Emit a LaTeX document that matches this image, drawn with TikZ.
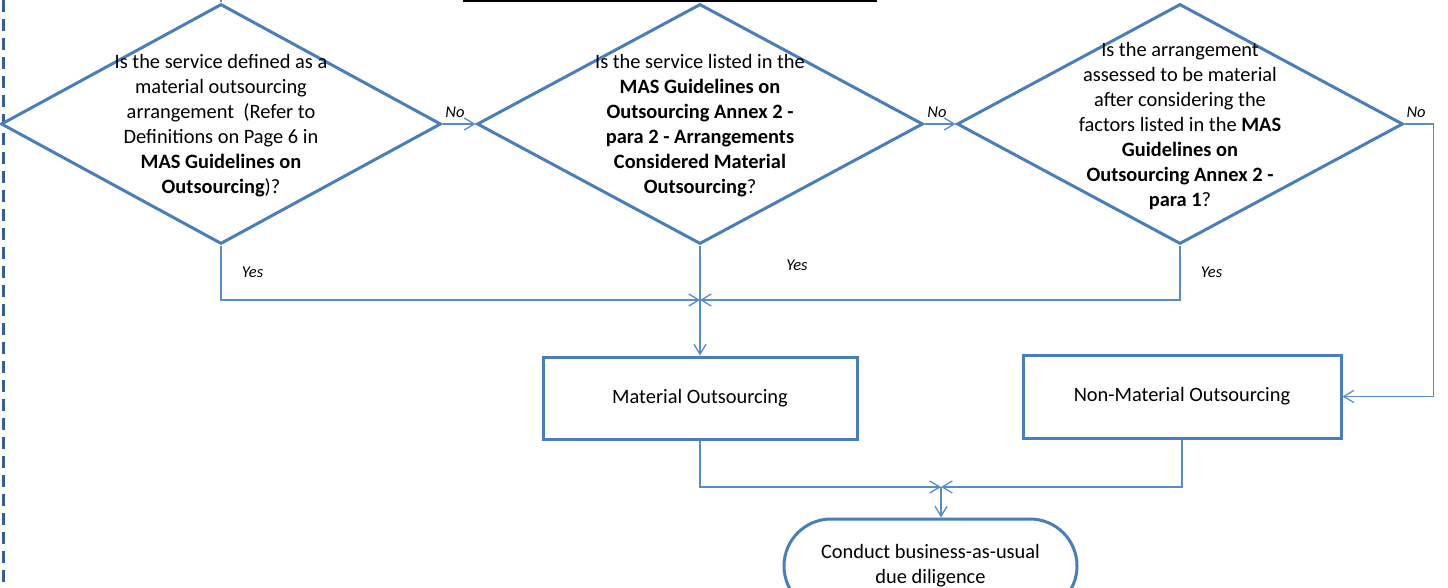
\documentclass[tikz,border=0pt]{standalone}
\usepackage{fontspec}
\setmainfont{Carlito}
\usepackage{xcolor}
\usepackage{tikz}
\usetikzlibrary{shapes.geometric,shapes.misc,arrows.meta,positioning,calc}

\definecolor{flowblue}{HTML}{4A7EBB}
\definecolor{linkblue}{HTML}{5A8BC9}
\definecolor{edgeblue}{HTML}{365F91}

\begin{document}
\begin{tikzpicture}[x=1pt, y=-1pt,
    decision/.style={draw=flowblue, line width=3pt, diamond, inner sep=0pt, minimum height=240pt},
    qtext/.style={align=center, font=\fontsize{20.4}{25}\selectfont},
    procbox/.style={draw=flowblue, line width=3pt, rectangle, inner sep=0pt, font=\fontsize{20.4}{25}\selectfont},
    conn/.style={draw=linkblue, line width=1.3pt, -{Straight Barb[length=10pt,width=12pt]}},
    lbl/.style={font=\fontsize{16.5}{19}\selectfont\itshape}
]
    \path[clip, use as bounding box] (0,0) rectangle (1448,588);

    % Page edge and title rule
    \draw[edgeblue, line width=3pt, dash pattern=on 12pt off 7pt] (3,0) -- (3,588);
    \draw[line width=1.4pt] (463,1) -- (877,1);

    % Decisions
    \node[decision, minimum width=440pt] (d1) at (221,124) {};
    \node[decision, minimum width=446pt] (d2) at (700,124) {};
    \node[decision, minimum width=446pt] (d3) at (1180,124) {};

    \node[qtext] (q1) at (221,126) {Is the service defined as a\\ material outsourcing\\ arrangement~ (Refer to\\ Definitions on Page 6 in\\ \textbf{MAS Guidelines on}\\ \textbf{Outsourcing})?};
    \node[qtext] (q2) at (700,126) {Is the service listed in the\\ \textbf{MAS Guidelines on}\\ \textbf{Outsourcing Annex 2 -}\\ \textbf{para 2 - Arrangements}\\ \textbf{Considered Material}\\ \textbf{Outsourcing}?};
    \node[qtext] (q3) at (1180,126) {Is the arrangement\\ assessed to be material\\ after considering the\\ factors listed in the \textbf{MAS}\\ \textbf{Guidelines on}\\ \textbf{Outsourcing Annex 2 -}\\ \textbf{para 1}?};

    % Outcomes
    \node[procbox, minimum width=314pt, minimum height=82pt] (mo) at (700,398) {Material Outsourcing};
    \node[procbox, minimum width=318pt, minimum height=83pt] (nmo) at (1182,396.5) {Non-Material Outsourcing};
    \node[procbox, rounded rectangle, minimum width=293pt, minimum height=94pt, align=center] (bau) at (930.5,566) {Conduct business-as-usual\\ due diligence};

    % Junctions
    \coordinate (in1) at (221,0);
    \coordinate (j1) at (700,300);
    \coordinate (j2) at (941,487);

    % No branches
    \draw[draw=linkblue, line width=1.3pt] (in1) -- (d1.north);
    \draw[conn] (d1.east) -- (d2.west) node[lbl, pos=0.38, above=2pt] {No};
    \draw[conn] (d2.east) -- (d3.west) node[lbl, pos=0.4, above=2pt] {No};
    \draw[conn] (d3.east) -- ++(29,0) node[lbl, pos=0.4, above=2pt] {No} |- (nmo.east);

    % Yes branches
    \draw[conn] (d1.south) |- (j1) node[lbl, pos=0.25, right=17pt] {Yes};
    \draw[conn] (d3.south) |- (j1) node[lbl, pos=0.25, right=17pt] {Yes};
    \draw[conn] (d2.south) -- (mo.north);
    \node[lbl] (yes2) at (797,265) {Yes};

    % To due diligence
    \draw[conn] (mo.south) |- (j2);
    \draw[conn] (nmo.south) |- (j2);
    \draw[conn] (j2) -- (j2 |- bau.north);
\end{tikzpicture}
\end{document}
